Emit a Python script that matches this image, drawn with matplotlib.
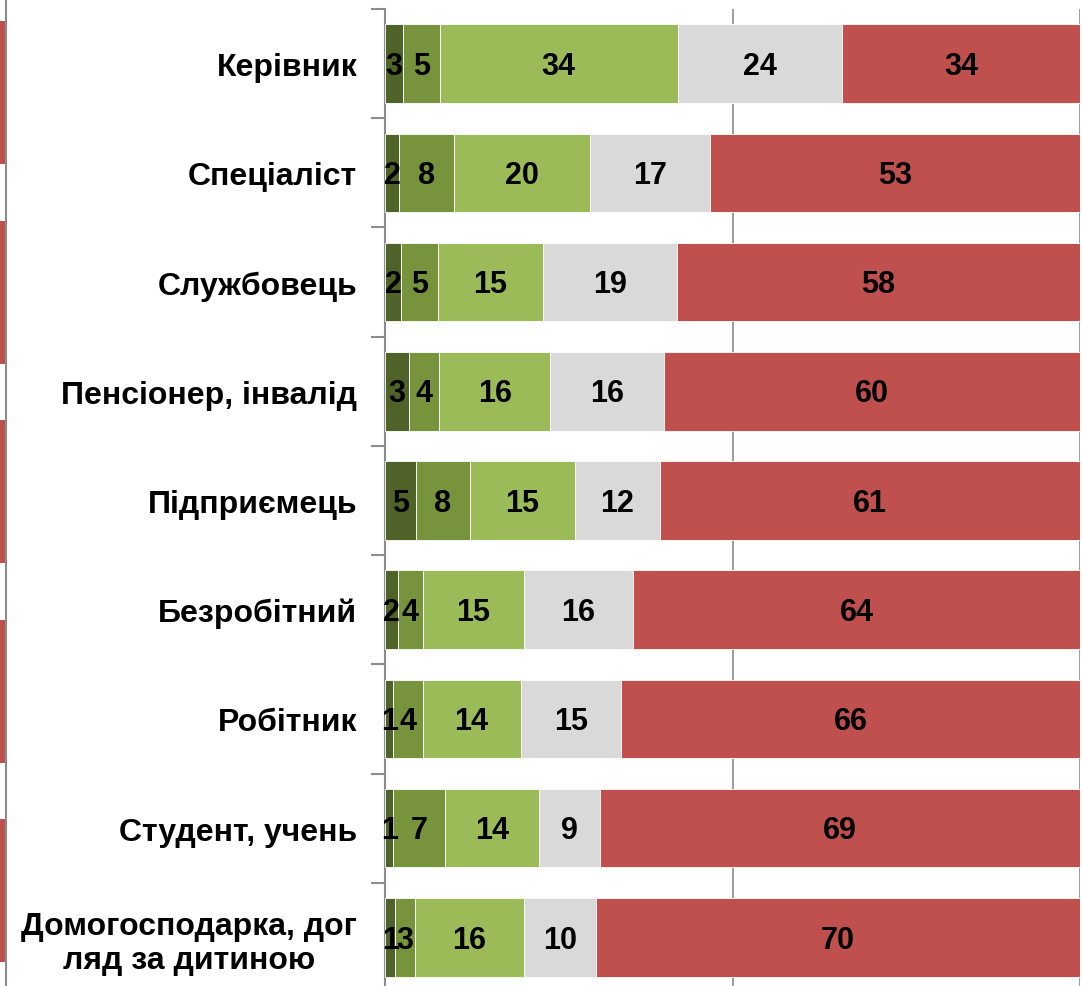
import numpy as np
import matplotlib.pyplot as plt

plt.rcParams['font.family'] = ['Liberation Sans', 'DejaVu Sans']

categories = ["Керівник", "Спеціаліст", "Службовець", "Пенсіонер, інвалід",
              "Підприємець", "Безробітний", "Робітник", "Студент, учень",
              "Домогосподарка, дог\nляд за дитиною"]

# segment widths (%), left to right
seg1 = [2.6, 2.0, 2.3, 3.5, 4.5, 1.8, 1.2, 1.2, 1.5]
seg2 = [5.3, 7.9, 5.3, 4.3, 7.7, 3.6, 4.2, 7.5, 2.8]
seg3 = [34.2, 19.6, 15.1, 16.0, 15.1, 14.6, 14.1, 13.5, 15.7]
seg4 = [23.6, 17.3, 19.3, 16.4, 12.2, 15.7, 14.5, 8.8, 10.4]
seg5 = [34.3, 53.2, 58.0, 59.8, 60.5, 64.3, 66.0, 69.0, 69.6]

# labels as printed on the bars
lab1 = [3, 2, 2, 3, 5, 2, 1, 1, 1]
lab2 = [5, 8, 5, 4, 8, 4, 4, 7, 3]
lab3 = [34, 20, 15, 16, 15, 15, 14, 14, 16]
lab4 = [24, 17, 19, 16, 12, 16, 15, 9, 10]
lab5 = [34, 53, 58, 60, 61, 64, 66, 69, 70]

colors = ["#4F6228", "#77933C", "#9BBB59", "#D9D9D9", "#C0504D"]

# red bars of a neighbouring chart cut off at the left edge
side_vals = [100, 100, 100, 100, 100]

W, H = 1082, 987
fig = plt.figure(figsize=(W / 100, H / 100), dpi=100)

# cut-off neighbour chart
axs = fig.add_axes([-20 / W, -4.5 / H, 25.5 / W, 997.5 / H])
axs.barh(np.arange(len(side_vals)), side_vals, height=0.717, color=colors[4])
axs.set_xlim(90, 100)
axs.set_ylim(len(side_vals) - 0.5, -0.5)
axs.axvline(100, color="#8C8C8C", lw=1.5, clip_on=False)
axs.axis("off")

ax = fig.add_axes([385 / W, -6 / H, 695 / W, 983 / H])
y = np.arange(len(categories))
segs = [seg1, seg2, seg3, seg4, seg5]
labs = [lab1, lab2, lab3, lab4, lab5]
left = np.zeros(len(categories))
for vals, labels, c in zip(segs, labs, colors):
    vals = np.array(vals)
    ax.barh(y, vals, left=left, height=0.72, color=c, edgecolor="white",
            linewidth=0.6, zorder=3)
    for yi, l, v, t in zip(y, left, vals, labels):
        ax.text(l + v / 2, yi + 0.02, str(t), ha="center", va="center",
                fontsize=22, fontweight="bold", color="black", zorder=4)
    left += vals

ax.set_xlim(0, 100)
ax.set_ylim(len(categories) - 0.5, -0.5)
ax.set_xticks([])
for gx in [50, 100]:
    ax.axvline(gx, color="#8C8C8C", lw=1.2, zorder=1)

ax.set_yticks(y)
ax.set_yticklabels(categories, fontsize=23, fontweight="bold", multialignment="center")
ax.set_yticks(np.arange(len(categories) + 1) - 0.5, minor=True)
ax.tick_params(axis="y", which="major", length=0, pad=20)
ax.tick_params(axis="y", which="minor", length=10, width=1.5, color="#8C8C8C")
for s in ["top", "right", "bottom"]:
    ax.spines[s].set_visible(False)
ax.spines["left"].set_color("#8C8C8C")
ax.spines["left"].set_linewidth(1.5)

fig.savefig("out.png", dpi=100)
